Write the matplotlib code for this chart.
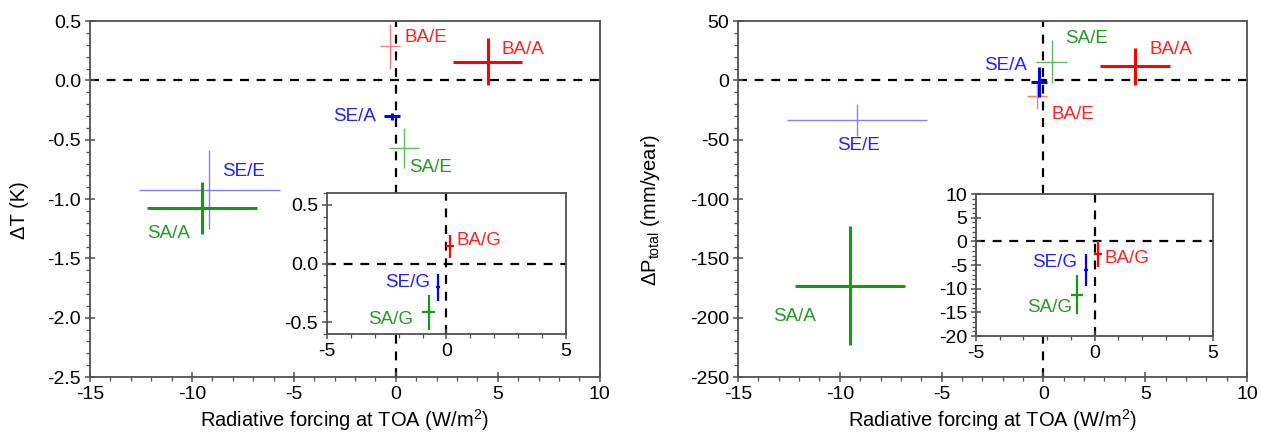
import matplotlib
matplotlib.use("Agg")
import matplotlib.pyplot as plt
from matplotlib.ticker import MultipleLocator

plt.rcParams["font.family"] = ["Liberation Sans", "DejaVu Sans"]
plt.rcParams["mathtext.fontset"] = "custom"
plt.rcParams["mathtext.rm"] = "Liberation Sans"
plt.rcParams["mathtext.it"] = "Liberation Sans:italic"
plt.rcParams["axes.unicode_minus"] = False

# name, x, xerr, dT, dT_err, dP, dP_err, colour, linewidth
names = ["BA/E", "BA/A", "SE/A", "SA/E", "SE/E", "SA/A"]
rf = [-0.3, 4.5, -0.2, 0.4, -9.15, -9.5]
rf_err = [0.5, 1.7, 0.4, 0.75, 3.45, 2.7]
dT = [0.29, 0.16, -0.30, -0.57, -0.92, -1.075]
dT_err = [0.19, 0.2, 0.03, 0.17, 0.33, 0.22]
dP = [-13, 12, -1.5, 16, -33, -173]
dP_err = [11, 15.7, 12.5, 18, 13.5, 50]
colors = ["#ff7a7a", "#ff0000", "#0000ff", "#5cb85c", "#8080ff", "#169a16"]
widths = [1.0, 2.2, 2.2, 1.0, 1.0, 2.2]
text_colors = ["#ff2020", "#ff2020", "#2020ff", "#229922", "#2020ff", "#229922"]

# inset (global) experiments
g_names = ["BA/G", "SE/G", "SA/G"]
g_rf = [0.15, -0.36, -0.75]
g_rf_err = [0.17, 0.1, 0.26]
g_dT = [0.145, -0.2, -0.415]
g_dT_err = [0.1, 0.115, 0.15]
g_dP = [-2.7, -6.0, -11.3]
g_dP_err = [2.8, 3.4, 4.1]
g_colors = ["#ff0000", "#0000ff", "#169a16"]
g_text_colors = ["#ff2020", "#2020ff", "#229922"]

# label positions (x, y, ha)
lab_T = [(0.44, 0.36, "left"), (5.2, 0.26, "left"), (-0.98, -0.30, "right"),
         (0.64, -0.73, "left"), (-8.5, -0.77, "left"), (-12.2, -1.29, "left")]
lab_P = [(0.4, -29, "left"), (5.2, 26, "left"), (-0.8, 13, "right"),
         (1.08, 35, "left"), (-9.1, -55, "center"), (-13.3, -199, "left")]
glab_T = [(0.4, 0.2, "left"), (-0.69, -0.16, "right"), (-1.4, -0.48, "right")]
glab_P = [(0.4, -3.7, "left"), (-0.74, -4.5, "right"), (-0.95, -14, "right")]

FS = 14
LFS = 14.5
frame_col = "#505050"


def style(ax, xmaj, xmin, ymaj, ymin):
    for s in ax.spines.values():
        s.set_color(frame_col)
        s.set_linewidth(1.3)
    ax.xaxis.set_major_locator(MultipleLocator(xmaj))
    ax.xaxis.set_minor_locator(MultipleLocator(xmin))
    ax.yaxis.set_major_locator(MultipleLocator(ymaj))
    ax.yaxis.set_minor_locator(MultipleLocator(ymin))
    ax.tick_params(which="major", direction="inout", length=7, width=1.1,
                   color=frame_col, labelsize=FS, pad=3)
    ax.tick_params(which="minor", direction="out", length=3, width=0.9,
                   color=frame_col)
    ax.axhline(0, color="black", ls=(0, (4, 3.5)), lw=1.6, zorder=1)
    ax.axvline(0, color="black", ls=(0, (4, 3.5)), lw=1.6, zorder=1)


def draw(ax, xs, xe, ys, ye, cols, lws):
    for x, dx, y, dy, c, w in zip(xs, xe, ys, ye, cols, lws):
        ax.errorbar(x, y, xerr=dx, yerr=dy, fmt="none", ecolor=c,
                    elinewidth=w, capsize=0, zorder=3)


def labels(ax, names, pos, cols):
    for n, (x, y, ha), c in zip(names, pos, cols):
        ax.text(x, y, n, color=c, ha=ha, va="center", fontsize=13.5, zorder=4)


fig = plt.figure(figsize=(12.62, 4.41), dpi=100)

# left panel: temperature
ax1 = fig.add_axes([0.0713, 0.145, 0.404, 0.807])
style(ax1, 5, 1, 0.5, 0.1)
ax1.set_xlim(-15, 10)
ax1.set_ylim(-2.5, 0.5)
ax1.yaxis.set_major_formatter(plt.FuncFormatter(lambda v, p: f"{v:.1f}"))
draw(ax1, rf, rf_err, dT, dT_err, colors, widths)
labels(ax1, names, lab_T, text_colors)
ax1.set_xlabel("Radiative forcing at TOA (W/m$^2$)", fontsize=LFS, labelpad=3)
ax1.set_ylabel("ΔT (K)", fontsize=LFS)
ax1.yaxis.set_label_coords(-0.12, 0.47)

in1 = fig.add_axes([0.2591, 0.2426, 0.1894, 0.3197])
style(in1, 5, 1, 0.5, 0.1)
in1.set_xlim(-5, 5)
in1.set_ylim(-0.6, 0.6)
in1.yaxis.set_major_formatter(plt.FuncFormatter(lambda v, p: f"{v:.1f}"))
draw(in1, g_rf, g_rf_err, g_dT, g_dT_err, g_colors, [1.6] * 3)
labels(in1, g_names, glab_T, g_text_colors)

# right panel: precipitation
ax2 = fig.add_axes([0.5848, 0.145, 0.4033, 0.807])
style(ax2, 5, 1, 50, 10)
ax2.set_xlim(-15, 10)
ax2.set_ylim(-250, 50)
draw(ax2, rf, rf_err, dP, dP_err, colors, widths)
labels(ax2, names, lab_P, text_colors)
ax2.set_xlabel("Radiative forcing at TOA (W/m$^2$)", fontsize=LFS, labelpad=3)
ax2.set_ylabel("ΔP$_{\\rm total}$ (mm/year)", fontsize=LFS)
ax2.yaxis.set_label_coords(-0.15, 0.47)

in2 = fig.add_axes([0.7734, 0.238, 0.1878, 0.322])
style(in2, 5, 1, 5, 1)
in2.set_xlim(-5, 5)
in2.set_ylim(-20, 10)
draw(in2, g_rf, g_rf_err, g_dP, g_dP_err, g_colors, [1.6] * 3)
labels(in2, g_names, glab_P, g_text_colors)

fig.savefig("out.png", dpi=100, facecolor="white")
